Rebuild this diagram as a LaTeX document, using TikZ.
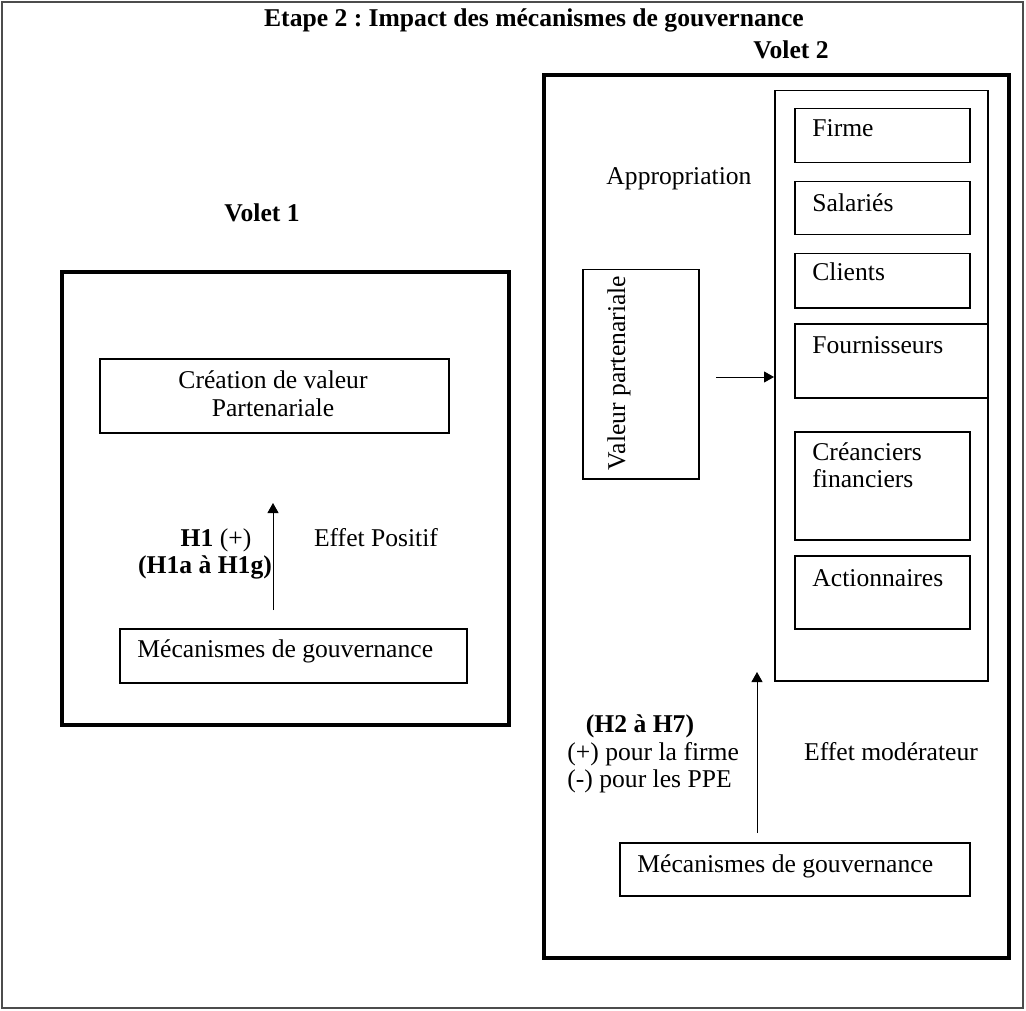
\documentclass[tikz,border=0pt]{standalone}
\usepackage{fontspec}
\setmainfont{Liberation Serif}
\usepackage{tikz}
\usetikzlibrary{positioning,arrows.meta}
\frenchspacing

\begin{document}
\begin{tikzpicture}[x=0.5pt,y=-0.5pt,
    every node/.style={font=\fontsize{12.8}{13.5}\selectfont},
    cadre/.style={draw, line width=2pt, inner sep=0pt, anchor=north west},
    boite/.style={draw, line width=0.75pt, inner sep=0pt, anchor=north west},
    texte/.style={inner sep=0pt, anchor=base west},
    fleche/.style={-{Triangle[length=5pt,width=5.5pt]}, line width=0.5pt}]
            \useasboundingbox (0,0) rectangle (1026,1010);
            \draw[black!70, line width=0.6pt] (2,2) rectangle (1023,1008);

            % titres
            \node[inner sep=0pt, anchor=base] (titre) at (534,27) {\textbf{Etape 2 : Impact des mécanismes de gouvernance}};
            \node[inner sep=0pt, anchor=base] (volet1) at (262,222) {\textbf{Volet 1}};
            \node[inner sep=0pt, anchor=base] (volet2) at (791,59) {\textbf{Volet 2}};

            % volet 1
            \node[cadre, minimum width=223.5pt, minimum height=226.5pt] (cadre1) at (60,270) {};
            \node[boite, minimum width=174.5pt, minimum height=37pt] (crea) at (99,358) {};
            \node[inner sep=0pt, anchor=base] (crea1) at (273,388) {Création de valeur};
            \node[inner sep=0pt, anchor=base] (crea2) at (273,416) {Partenariale};
            \node[boite, minimum width=173.5pt, minimum height=27pt] (meca) at (119,628) {};
            \node[texte] (tmeca) at ([xshift=9pt,yshift=-14.5pt]meca.north west) {Mécanismes de gouvernance};

            \coordinate (hbas) at (273,610);
            \coordinate (hhaut) at (273,503);
            \draw[fleche] (hbas) -- (hhaut);
            \node[inner sep=0pt, anchor=base] (h1) at (216,546) {\textbf{H1} (+)};
            \node[inner sep=0pt, anchor=base] (h1ag) at (205,573) {\textbf{(H1a à H1g)}};
            \node[inner sep=0pt, anchor=base] (positif) at (376,546) {Effet Positif};

            % volet 2
            \node[cadre, minimum width=232.5pt, minimum height=441.5pt] (cadre2) at (542,73) {};
            \node[boite, minimum width=106.5pt, minimum height=295pt] (parties) at (774,90) {};
            \node[boite, minimum width=87.5pt, minimum height=27pt] (firme) at (794,108) {};
            \node[boite, minimum width=87.5pt, minimum height=26.5pt] (salaries) at (794,181) {};
            \node[boite, minimum width=87.5pt, minimum height=27pt] (clients) at (794,253) {};
            \node[boite, minimum width=96.5pt, minimum height=37pt] (fourn) at (794,323) {};
            \node[boite, minimum width=87.5pt, minimum height=54pt] (crean) at (794,431) {};
            \node[boite, minimum width=87.5pt, minimum height=36.5pt] (action) at (794,555) {};
            \node[texte] (tfirme) at ([xshift=9pt,yshift=-14.5pt]firme.north west) {Firme};
            \node[texte] (tsalaries) at ([xshift=9pt,yshift=-15.5pt]salaries.north west) {Salariés};
            \node[texte] (tclients) at ([xshift=9pt,yshift=-14pt]clients.north west) {Clients};
            \node[texte] (tfourn) at ([xshift=9pt,yshift=-15pt]fourn.north west) {Fournisseurs};
            \node[texte] (tcrean) at ([xshift=9pt,yshift=-14.5pt]crean.north west) {Créanciers};
            \node[texte] (tfinan) at ([yshift=-13.5pt]tcrean.base west) {financiers};
            \node[texte] (taction) at ([xshift=9pt,yshift=-15.5pt]action.north west) {Actionnaires};

            \node[boite, minimum width=58pt, minimum height=104.5pt] (valeur) at (582,269) {};
            \node[inner sep=0pt, anchor=base, rotate=90] (tvaleur) at (625,373) {Valeur partenariale};
            \node[inner sep=0pt, anchor=base] (appro) at (679,185) {Appropriation};
            \coordinate (adebut) at (716,377);
            \draw[fleche] (adebut) -- (adebut -| parties.west);

            \node[boite, minimum width=175pt, minimum height=26.5pt] (mecb) at (619,842) {};
            \node[texte] (tmecb) at ([xshift=9pt,yshift=-15pt]mecb.north west) {Mécanismes de gouvernance};
            \coordinate (mbas) at (757,833);
            \coordinate (mhaut) at (757,672);
            \draw[fleche] (mbas) -- (mhaut);
            \node[inner sep=0pt, anchor=base] (h27) at (640,732) {\textbf{(H2 à H7)}};
            \node[texte] (plus) at (567,760) {(+) pour la firme};
            \node[texte] (moins) at (567,787) {(-) pour les PPE};
            \node[inner sep=0pt, anchor=base] (modere) at (891,760) {Effet modérateur};
          \end{tikzpicture}
\end{document}
